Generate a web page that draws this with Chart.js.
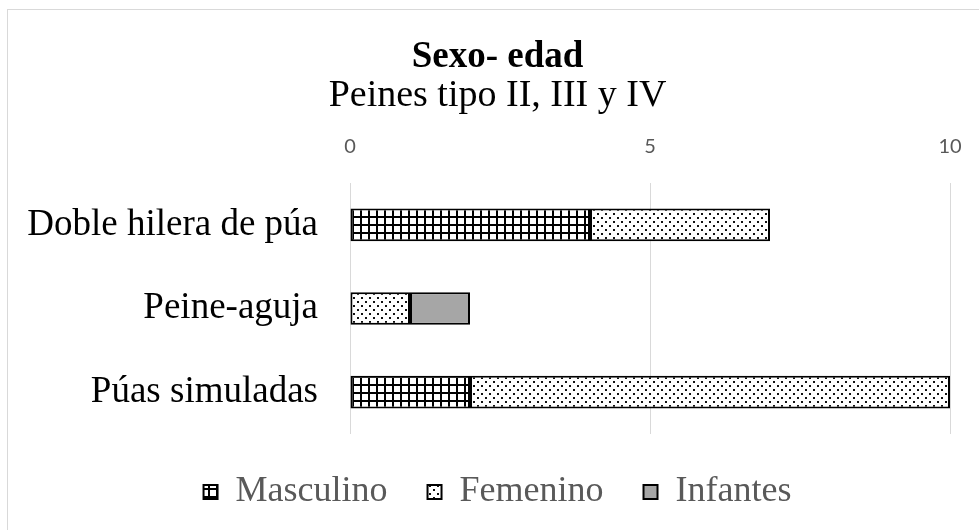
<!DOCTYPE html>
<html>
<head>
<meta charset="utf-8">
<script src="https://cdn.jsdelivr.net/npm/chart.js@4"></script>
<style>
  html, body { margin: 0; padding: 0; background: #fff; }
  #wrap { position: relative; width: 979px; height: 530px; }
  #frame { position: absolute; left: 7px; top: 9px; right: 0; bottom: 0; border-left: 1px solid #d9d9d9; border-top: 1px solid #d9d9d9; }
  canvas { position: absolute; left: 0; top: 0; }
</style>
</head>
<body>
<div id="wrap">
  <div id="frame"></div>
  <canvas id="chart" width="979" height="530"></canvas>
</div>
<script>
// Chart data
const categories = ['Doble hilera de púa', 'Peine-aguja', 'Púas simuladas'];
const masculino = [4, 0, 2];
const femenino = [3, 1, 8];
const infantes = [0, 1, 0];
const xTicks = [0, 5, 10];

// Fill patterns like the original office chart
function gridPattern(ctx) {
  const c = document.createElement('canvas');
  c.width = 8; c.height = 8;
  const p = c.getContext('2d');
  p.fillStyle = '#fff';
  p.fillRect(0, 0, 8, 8);
  p.fillStyle = '#000';
  p.fillRect(0, 0, 8, 2);
  p.fillRect(0, 0, 2, 8);
  return ctx.createPattern(c, 'repeat');
}

function dotPattern(ctx) {
  const c = document.createElement('canvas');
  c.width = 8; c.height = 8;
  const p = c.getContext('2d');
  p.fillStyle = '#fff';
  p.fillRect(0, 0, 8, 8);
  p.fillStyle = '#111';
  p.fillRect(1, 1, 2, 2);
  p.fillRect(5, 5, 2, 2);
  return ctx.createPattern(c, 'repeat');
}

document.addEventListener('DOMContentLoaded', () => {
  const ctx = document.getElementById('chart').getContext('2d');
  const barStyle = {
    borderColor: '#000',
    borderWidth: 2,
    borderSkipped: false,
    barPercentage: 0.39,
    categoryPercentage: 1
  };

  new Chart(ctx, {
    type: 'bar',
    data: {
      labels: categories,
      datasets: [
        Object.assign({ label: 'Masculino', data: masculino, backgroundColor: gridPattern(ctx) }, barStyle),
        Object.assign({ label: 'Femenino', data: femenino, backgroundColor: dotPattern(ctx) }, barStyle),
        Object.assign({ label: 'Infantes', data: infantes, backgroundColor: '#a6a6a6' }, barStyle)
      ]
    },
    options: {
      indexAxis: 'y',
      responsive: false,
      animation: false,
      layout: { padding: { left: 24, right: 8, top: 10, bottom: 10 } },
      plugins: {
        title: {
          display: true,
          text: 'Sexo- edad',
          color: '#000',
          font: { family: 'Liberation Serif', size: 37, weight: 'bold', lineHeight: 1 },
          padding: { top: 29, bottom: 1 }
        },
        subtitle: {
          display: true,
          text: 'Peines tipo II, III y IV',
          color: '#000',
          font: { family: 'Liberation Serif', size: 38, lineHeight: 1 },
          padding: { top: 0, bottom: 20 }
        },
        legend: {
          position: 'bottom',
          labels: {
            color: '#595959',
            font: { family: 'Liberation Serif', size: 36 },
            boxWidth: 14,
            boxHeight: 14,
            padding: 40
          }
        },
        tooltip: { enabled: false }
      },
      scales: {
        x: {
          position: 'top',
          stacked: true,
          min: 0,
          max: 10,
          afterBuildTicks: axis => { axis.ticks = xTicks.map(v => ({ value: v })); },
          afterFit: scale => {
            scale.height = 48;
            scale.paddingLeft = 0;
            scale.paddingRight = 29;
          },
          grid: { color: '#d9d9d9', lineWidth: 1, drawTicks: false },
          border: { display: false },
          ticks: {
            color: '#595959',
            font: { family: 'Lato', size: 20 },
            padding: 24
          }
        },
        y: {
          stacked: true,
          grid: { display: false },
          border: { display: false },
          afterFit: scale => {
            scale.width = 326;
            scale.paddingTop = 0;
            scale.paddingBottom = 0;
          },
          ticks: {
            color: '#000',
            font: { family: 'Liberation Serif', size: 37 },
            padding: 24
          }
        }
      }
    }
  });
});
</script>
</body>
</html>
